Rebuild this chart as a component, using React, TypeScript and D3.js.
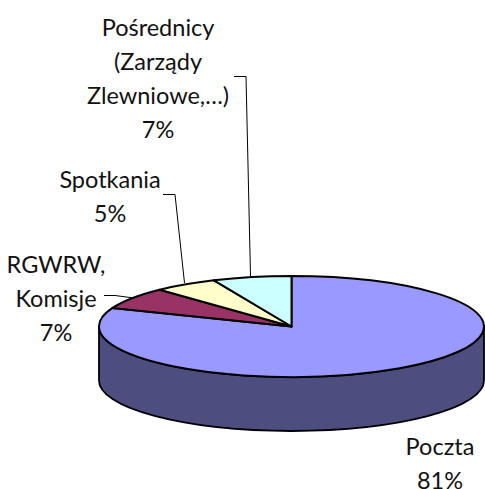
import React from "react";
import * as d3 from "d3";

const W = 485, H = 489;
const categories = ["Poczta", "RGWRW, Komisje", "Spotkania", "Pośrednicy"];
const values = [81, 7, 5.4, 6.6];
const colors = ["#9999FF", "#993366", "#FFFFCC", "#CCFFFF"];
const wallColor = "#4D4D80";
const labelLines = [
  ["Poczta"],
  ["RGWRW,", "Komisje"],
  ["Spotkania"],
  ["Pośrednicy", "(Zarządy", "Zlewniowe,…)"],
];
const labelPos: [number, number][] = [[440, 447], [56, 265], [110, 180], [158, 28]];
const leaders: [number, number][][] = [
  [],
  [[104, 295.5], [115, 295.5], [134, 298]],
  [[163, 194.5], [175, 194.5], [184.5, 283]],
  [[234, 76.5], [246, 76.5], [250.5, 276]],
];

const cx = 291.5, cy = 326.5, rx = 192.5, ry = 50.5, depth = 54;
const lineH = 34;

export default function App() {
  const pie = d3.pie<number>().sort(null).value((d) => d);
  const arcs = pie(values);
  const arc = d3.arc<d3.PieArcDatum<number>>().innerRadius(0).outerRadius(1);
  const line = d3.line();
  const wall = `M${cx - rx},${cy}A${rx},${ry} 0 0 0 ${cx + rx},${cy}V${cy + depth}A${rx},${ry} 0 0 1 ${cx - rx},${cy + depth}Z`;
  const total = d3.sum(values);
  return (
    <svg width={W} height={H} style={{ position: "absolute", left: 0, top: 0, background: "#fff" }}
      fontFamily="Lato, 'Open Sans', sans-serif" fontSize={23.5} fill="#111">
      <path d={wall} fill={wallColor} stroke="#000" strokeWidth={1.8} />
      {arcs.map((a, i) => (
        <path key={i} d={arc(a) as string}
          transform={`translate(${cx},${cy}) scale(${rx},${ry})`}
          fill={colors[i]} stroke="#000" strokeWidth={2} strokeLinejoin="round"
          vectorEffect="non-scaling-stroke" />
      ))}
      {leaders.map((l, i) => l.length > 0 && (
        <path key={i} d={line(l) as string} fill="none" stroke="#000" strokeWidth={1} />
      ))}
      {categories.map((c, i) => {
        const lines = [...labelLines[i], `${Math.round((values[i] / total) * 100)}%`];
        return (
          <text key={c} textAnchor="middle" aria-label={c}>
            {lines.map((t, j) => (
              <tspan key={j} x={labelPos[i][0]} y={labelPos[i][1] + j * lineH} dy="0.35em">{t}</tspan>
            ))}
          </text>
        );
      })}
    </svg>
  );
}
